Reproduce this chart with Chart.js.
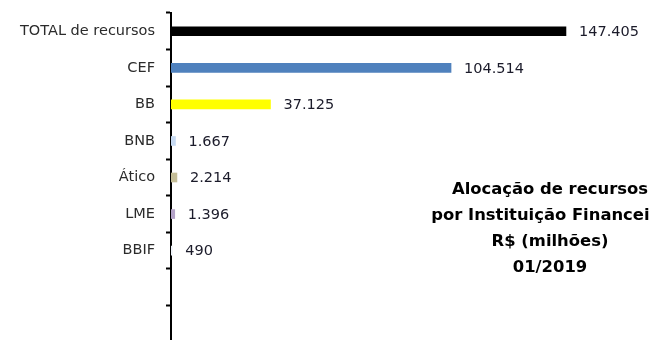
<!DOCTYPE html>
<html>
<head>
<meta charset="utf-8">
<script src="https://cdn.jsdelivr.net/npm/chart.js@4/dist/chart.umd.min.js"></script>
<style>
  html, body { margin: 0; padding: 0; background: #fff; overflow: hidden; width: 649px; height: 340px; }
  #wrap { position: relative; width: 649px; height: 342px; }
  #note { position: absolute; left: 400px; top: 176px; width: 300px; text-align: center;
          font-family: "DejaVu Sans", sans-serif; font-weight: bold; font-size: 16.4px; line-height: 26px;
          color: #000; white-space: nowrap; }
</style>
</head>
<body>
<div id="wrap">
  <canvas id="c" width="649" height="342"></canvas>
  <div id="note">Alocação de recursos<br>por Instituição Financeira<br>R$ (milhões)<br>01/2019</div>
</div>
<script>
const categories = ["TOTAL de recursos", "CEF", "BB", "BNB", "Ático", "LME", "BBIF", "", ""];
const values = [147405, 104514, 37125, 1667, 2214, 1396, 490, null, null];
const valueLabels = ["147.405", "104.514", "37.125", "1.667", "2.214", "1.396", "490", "", ""];
const barColors = ["#000000", "#4F81BD", "#FFFF00", "#C6D9F1", "#C4BD97", "#B3A2C7", "#EEF3F9", "#ffffff", "#ffffff"];

const labelPlugin = {
  id: "valueLabels",
  afterDatasetsDraw(chart) {
    const ctx = chart.ctx;
    const meta = chart.getDatasetMeta(0);
    ctx.save();
    ctx.font = "14.5px 'DejaVu Sans', sans-serif";
    ctx.fillStyle = "#1b1b2a";
    ctx.textAlign = "left";
    ctx.textBaseline = "middle";
    meta.data.forEach((bar, i) => {
      if (values[i] == null) return;
      ctx.fillText(valueLabels[i], bar.x + 13, bar.y + 1);
    });
    ctx.restore();
  }
};

new Chart(document.getElementById("c"), {
  type: "bar",
  data: {
    labels: categories,
    datasets: [{
      data: values,
      backgroundColor: barColors,
      barThickness: 9,
      borderWidth: 0
    }]
  },
  options: {
    indexAxis: "y",
    responsive: false,
    animation: false,
    events: [],
    layout: { padding: { top: 13, right: 0, bottom: 0, left: 0 } },
    plugins: { legend: { display: false }, tooltip: { enabled: false }, title: { display: false } },
    scales: {
      x: { display: false, min: 0, max: 178400 },
      y: {
        grid: { offset: true, drawOnChartArea: false, drawTicks: true, tickLength: 5, tickColor: "#000", tickWidth: 2 },
        border: { display: true, color: "#000", width: 2 },
        ticks: { color: "#2b2b2b", padding: 11, font: { family: "'DejaVu Sans', sans-serif", size: 14.5 } },
        afterFit(scale) { scale.width = 171; scale.paddingTop = 0; scale.paddingBottom = 0; }
      }
    }
  },
  plugins: [labelPlugin]
});
</script>
</body>
</html>
